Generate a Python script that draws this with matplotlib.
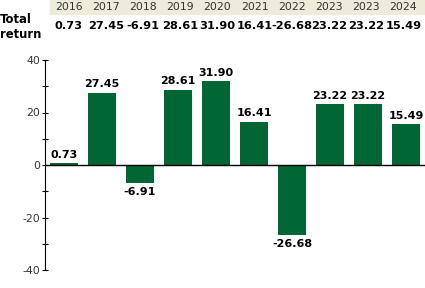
import matplotlib
matplotlib.use('Agg')
import matplotlib.pyplot as plt
from matplotlib.patches import Rectangle

years = ['2016', '2017', '2018', '2019', '2020', '2021', '2022', '2023', '2023', '2024']
returns = [0.73, 27.45, -6.91, 28.61, 31.90, 16.41, -26.68, 23.22, 23.22, 15.49]
yticks = [-40, -20, 0, 20, 40]
yminor = [-30, -10, 10, 30]

W, H = 425, 288
plt.rcParams['font.family'] = 'DejaVu Sans'
plt.rcParams['axes.unicode_minus'] = False
fig = plt.figure(figsize=(W / 100, H / 100), dpi=100)

# header strip with the years and the values
fig.patches.append(Rectangle((50 / W, 1 - 14 / H), 1 - 50 / W, 14 / H,
                             transform=fig.transFigure, color='#edebd9', zorder=0))
for i, (yr, v) in enumerate(zip(years, returns)):
    x = (68.5 + 37.2 * i) / W
    fig.text(x, 1 - 7 / H, yr, ha='center', va='center', fontsize=7.8, color='#333333')
    fig.text(x, 1 - 26 / H, '%.2f' % v, ha='center', va='center', fontsize=8.2,
             fontweight='bold', color='black')
fig.text(0.0, 1 - 27 / H, 'Total\nreturn', ha='left', va='center', fontsize=8.4,
         fontweight='bold', linespacing=1.2)

ax = fig.add_axes([45 / W, 1 - 270 / H, 1 - 45 / W, 210 / H])
xs = range(len(returns))
ax.bar(xs, returns, width=0.76, color='#006633', zorder=2)
ax.axhline(0, color='black', lw=1, zorder=3)

for x, v in zip(xs, returns):
    if v >= 0:
        ax.annotate('%.2f' % v, (x, v), xytext=(0, 2.5), textcoords='offset points',
                    ha='center', va='bottom', fontsize=8, fontweight='bold')
    else:
        ax.annotate('%.2f' % v, (x, v), xytext=(0, -3), textcoords='offset points',
                    ha='center', va='top', fontsize=8, fontweight='bold')

ax.set_xlim(-0.5, 9.5)
ax.set_ylim(-40, 40)
ax.set_yticks(yticks)
ax.set_yticks(yminor, minor=True)
ax.tick_params(axis='y', which='both', direction='inout', length=4.5, width=0.8,
               labelsize=7.8, labelcolor='#333333', pad=1)
ax.set_xticks([])
for s in ['top', 'right', 'bottom']:
    ax.spines[s].set_visible(False)
ax.spines['left'].set_linewidth(0.8)
ax.patch.set_alpha(0)

fig.savefig('out.png', dpi=100)
